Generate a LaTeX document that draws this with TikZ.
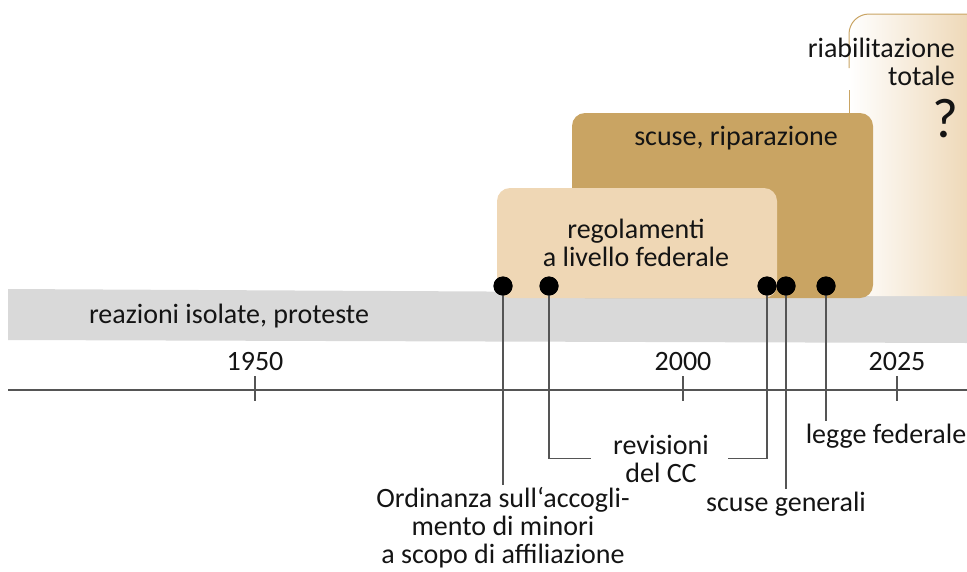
\documentclass[tikz,border=0pt]{standalone}
\usepackage{fontspec}
\setmainfont{Carlito}
\definecolor{band}{RGB}{217,217,217}
\definecolor{lighttan}{RGB}{239,215,181}
\definecolor{darktan}{RGB}{201,164,99}
\definecolor{fadetan}{RGB}{235,209,170}
\definecolor{axisgrey}{RGB}{85,85,85}

\begin{document}
\begin{tikzpicture}[x=1pt,y=-1pt,
  every node/.style={font=\fontsize{28}{28}\selectfont, text=black!92, inner sep=2pt, align=center},
  lbl/.style={anchor=base},
  dot/.style={circle, fill=black, minimum size=19pt, inner sep=0pt},
  leader/.style={draw=axisgrey, line width=1.2pt},
  tickmark/.style={draw=axisgrey, line width=1.2pt}]
\clip (0,0) rectangle (967,571);
\fill [band] (8,289) -- (967,294) -- (967,343) -- (8,340) -- cycle;
\shade [left color=white, right color=fadetan, rounded corners=20pt] (849,296) -- (849,14) -- (992,14) -- (992,296) -- cycle;
\draw [darktan, line width=1pt, rounded corners=20pt] (849,68) -- (849,14) -- (992,14);
\draw [darktan, line width=1pt] (849,90) -- (849,113);
\fill [darktan, rounded corners=13pt] (572,113) rectangle (873,298);
\fill [lighttan, rounded corners=13pt] (497,188) rectangle (777,298);
\node [lbl, align=right, anchor=base east] (riab) at (957,85) {riabilitazione\\totale};
\node [lbl, font=\fontsize{56}{56}\selectfont] (qm) at (945,137) {?};
\node [lbl] (scus) at (736,145) {scuse, riparazione};
\node [lbl] (regol) at (636,266) {regolamenti\\a livello federale};
\node [lbl] (reaz) at (229,323) {reazioni isolate, proteste};
\coordinate (axL) at (8,390);
\coordinate (axR) at (967,390);
\draw [axisgrey, line width=1.5pt] (axL) -- (axR);
\foreach \x/\yr in {255/1950, 683/2000, 897/2025} {
  \node [lbl] (y\yr) at (\x,370) {\yr};
  \draw [tickmark] (\x,376) -- (\x,401);
}
\node [lbl] (ordL) at (503,563) {Ordinanza sull‘accogli-\\mento di minori\\a scopo di affiliazione};
\node [lbl] (ccL) at (661,482) {revisioni\\del CC};
\node [lbl] (scL) at (786,511) {scuse generali};
\node [lbl] (lgL) at (886,443) {legge federale};
\node [dot] (ord) at (503,286) {};
\node [dot] (cc1) at (549,286) {};
\node [dot] (cc2) at (767,286) {};
\node [dot] (sc) at (786,286) {};
\node [dot] (lg) at (826,286) {};
\draw [leader] (ord.center) -- (ord |- ordL.north);
\draw [leader] (cc1.center) |- ([xshift=-20pt]ccL.west);
\draw [leader] (cc2.center) |- ([xshift=17pt]ccL.east);
\draw [leader] (sc.center) -- (sc |- scL.north);
\draw [leader] (lg.center) -- (lg |- lgL.north);
\foreach \d in {ord,cc1,cc2,sc,lg}
  \fill (\d) circle (9.5pt);
\end{tikzpicture}
\end{document}
